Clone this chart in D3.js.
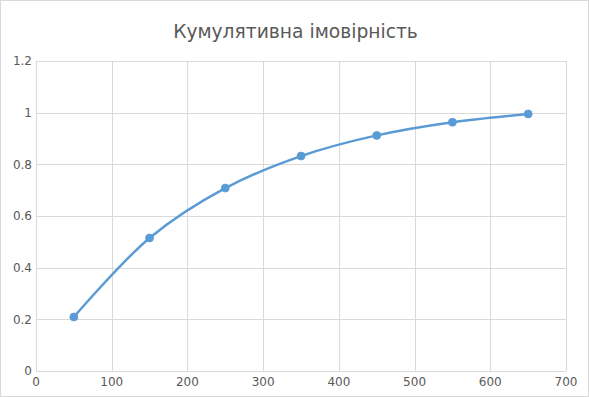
<!DOCTYPE html>
<html>
<head>
<meta charset="utf-8">
<script src="https://cdn.jsdelivr.net/npm/d3@7"></script>
<style>
  body { margin: 0; background: #fff; }
  text { font-family: "DejaVu Sans", sans-serif; fill: #595959; }
</style>
</head>
<body>
<div id="chart"></div>
<script>
var title = "Кумулятивна імовірність";
var xValues = [50, 150, 250, 350, 450, 550, 650];
var yValues = [0.209, 0.515, 0.708, 0.832, 0.912, 0.963, 0.995];
var xTicks = [0, 100, 200, 300, 400, 500, 600, 700];
var yTicks = [0, 0.2, 0.4, 0.6, 0.8, 1, 1.2];

var width = 589, height = 397;
var margin = {top: 61, right: 23, bottom: 26, left: 36};

var svg = d3.select("#chart").append("svg")
    .attr("width", width)
    .attr("height", height);

svg.append("rect")
    .attr("x", 0.5).attr("y", 0.5)
    .attr("width", width - 1).attr("height", height - 1)
    .style("fill", "#fff")
    .style("stroke", "#d9d9d9");

var x = d3.scaleLinear().domain([0, 700]).range([margin.left, width - margin.right]);
var y = d3.scaleLinear().domain([0, 1.2]).range([height - margin.bottom, margin.top]);

// gridlines
svg.append("g").selectAll("line.h")
    .data(yTicks).enter().append("line")
    .attr("x1", x(0)).attr("x2", x(700))
    .attr("y1", function(d){ return Math.round(y(d)) + 0.5; })
    .attr("y2", function(d){ return Math.round(y(d)) + 0.5; })
    .style("stroke", "#d9d9d9");

svg.append("g").selectAll("line.v")
    .data(xTicks).enter().append("line")
    .attr("y1", y(0)).attr("y2", y(1.2))
    .attr("x1", function(d){ return Math.round(x(d)) + 0.5; })
    .attr("x2", function(d){ return Math.round(x(d)) + 0.5; })
    .style("stroke", "#d9d9d9");

// tick labels
svg.append("g").selectAll("text")
    .data(yTicks).enter().append("text")
    .attr("x", x(0) - 4)
    .attr("y", function(d){ return y(d); })
    .attr("dy", "0.35em")
    .attr("text-anchor", "end")
    .style("font-size", "12px")
    .text(function(d){ return d; });

svg.append("g").selectAll("text")
    .data(xTicks).enter().append("text")
    .attr("x", function(d){ return x(d); })
    .attr("y", y(0) + 15)
    .attr("text-anchor", "middle")
    .style("font-size", "12px")
    .text(function(d){ return d; });

// title
svg.append("text")
    .attr("x", width / 2 + 1)
    .attr("y", 38)
    .attr("text-anchor", "middle")
    .style("font-size", "18.7px")
    .text(title);

var data = xValues.map(function(d, i){ return {x: d, y: yValues[i]}; });

var line = d3.line()
    .x(function(d){ return x(d.x); })
    .y(function(d){ return y(d.y); })
    .curve(d3.curveCatmullRom);

svg.append("path")
    .datum(data)
    .attr("d", line)
    .style("fill", "none")
    .style("stroke", "#5b9bd5")
    .style("stroke-width", 2.5)
    .style("stroke-linecap", "round");

svg.append("g").selectAll("circle")
    .data(data).enter().append("circle")
    .attr("cx", function(d){ return x(d.x); })
    .attr("cy", function(d){ return y(d.y); })
    .attr("r", 4)
    .style("fill", "#5b9bd5")
    .style("stroke", "#5b9bd5")
    .style("stroke-width", 0.75);
</script>
</body>
</html>
